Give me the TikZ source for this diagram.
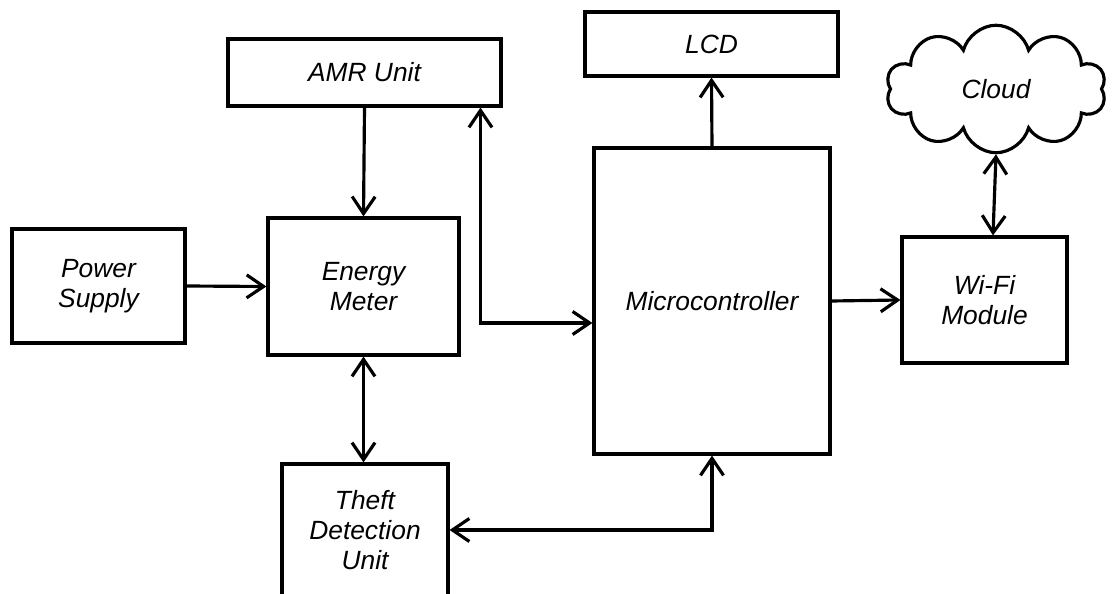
\documentclass[tikz,border=0pt]{standalone}
\usepackage{fontspec}
\setmainfont{Liberation Sans}
\usetikzlibrary{arrows.meta,shapes.symbols}

\def\lw{1.8pt}

\begin{document}
\begin{tikzpicture}[x=0.02cm, y=-0.02cm,
    block/.style={draw, line width=\lw, inner sep=0pt, align=center,
      font=\itshape\fontsize{15}{17}\selectfont},
    link/.style={line width=\lw, -{Straight Barb[length=3.4mm,width=4.6mm]}},
    dlink/.style={line width=\lw, {Straight Barb[length=3.4mm,width=4.6mm]}-{Straight Barb[length=3.4mm,width=4.6mm]}}]

  \useasboundingbox (0,0) rectangle (1112,594);
  \clip (0,0) rectangle (1112,594);

  \node[block, minimum width=5.46cm, minimum height=1.34cm] (amr) at (364.5,72.5) {AMR Unit};
  \node[block, minimum width=5.06cm, minimum height=1.28cm] (lcd) at (711.5,44) {LCD};
  \node[block, minimum width=3.46cm, minimum height=2.28cm] (ps) at (98.5,286) {Power\\Supply};
  \node[block, minimum width=3.82cm, minimum height=2.74cm] (em) at (363.5,286.5) {Energy\\Meter};
  \node[block, minimum width=4.72cm, minimum height=6.12cm] (mcu) at (712,301) {Microcontroller};
  \node[block, minimum width=3.3cm, minimum height=2.52cm] (wifi) at (984.5,300) {Wi-Fi\\Module};
  \node[block, minimum width=3.32cm, minimum height=2.64cm] (theft) at (365,530) {Theft\\Detection\\Unit};
  \node[block, cloud, cloud puffs=10, cloud ignores aspect,
    minimum width=4.4cm, minimum height=2.55cm] (cloud) at (996,89) {Cloud};

  \draw[link] (ps.east) -- (em.west);
  \draw[link] (amr.south) -- (em.north);
  \draw[dlink] (em.south) -- (em.south |- theft.north);
  \draw[dlink] ([xshift=2.32cm]amr.south) |- ([yshift=-0.44cm]mcu.west);
  \draw[link] (mcu.north) -- (lcd.south);
  \draw[link] (mcu.east) -- (wifi.west);
  \draw[dlink] (cloud.south) -- ([xshift=0.17cm]wifi.north);
  \draw[dlink] (theft.east) -| (mcu.south);
\end{tikzpicture}
\end{document}
